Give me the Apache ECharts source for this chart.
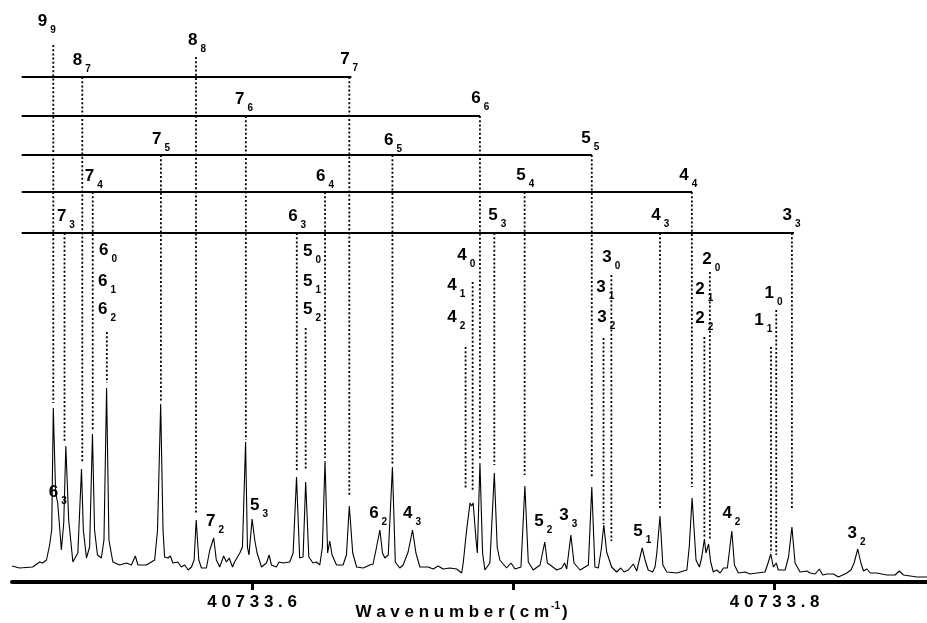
<!DOCTYPE html>
<html>
<head>
<meta charset="utf-8">
<script src="https://cdn.jsdelivr.net/npm/echarts@6/dist/echarts.min.js"></script>
<style>
html,body{margin:0;padding:0;background:#fff;}
#chart{width:927px;height:623px;}
</style>
</head>
<body>
<div id="chart"></div>
<script>
// ---- spectrum (wavenumber in cm-1, intensity in arbitrary units) ----
const wavenumber = [
40733.5081,40733.5110,40733.5160,40733.5187,40733.5198,40733.5213,40733.5225,40733.5233,40733.5239,40733.5248,
40733.5256,40733.5270,40733.5279,40733.5287,40733.5298,40733.5314,40733.5333,40733.5347,40733.5354,40733.5366,
40733.5378,40733.5389,40733.5397,40733.5408,40733.5423,40733.5433,40733.5443,40733.5452,40733.5467,40733.5493,
40733.5519,40733.5538,40733.5553,40733.5563,40733.5595,40733.5627,40733.5638,40733.5650,40733.5659,40733.5665,
40733.5678,40733.5687,40733.5697,40733.5716,40733.5729,40733.5742,40733.5755,40733.5768,40733.5778,40733.5786,
40733.5796,40733.5806,40733.5825,40733.5838,40733.5853,40733.5863,40733.5876,40733.5891,40733.5902,40733.5912,
40733.5925,40733.5933,40733.5953,40733.5963,40733.5975,40733.5982,40733.5988,40733.6000,40733.6010,40733.6019,
40733.6036,40733.6055,40733.6065,40733.6074,40733.6093,40733.6103,40733.6118,40733.6144,40733.6157,40733.6170,
40733.6182,40733.6195,40733.6205,40733.6217,40733.6233,40733.6246,40733.6259,40733.6269,40733.6279,40733.6289,
40733.6297,40733.6306,40733.6323,40733.6348,40733.6361,40733.6372,40733.6385,40733.6400,40733.6425,40733.6450,
40733.6463,40733.6474,40733.6489,40733.6499,40733.6508,40733.6521,40733.6537,40733.6548,40733.6565,40733.6578,
40733.6597,40733.6614,40733.6627,40733.6642,40733.6674,40733.6693,40733.6712,40733.6731,40733.6757,40733.6783,
40733.6802,40733.6808,40733.6821,40733.6834,40733.6840,40733.6846,40733.6857,40733.6862,40733.6872,40733.6882,
40733.6891,40733.6910,40733.6927,40733.6938,40733.6948,40733.6974,40733.6991,40733.7006,40733.7029,40733.7044,
40733.7057,40733.7076,40733.7102,40733.7120,40733.7130,40733.7146,40733.7166,40733.7185,40733.7196,40733.7204,
40733.7220,40733.7232,40733.7255,40733.7287,40733.7300,40733.7312,40733.7325,40733.7336,40733.7346,40733.7357,
40733.7363,40733.7376,40733.7395,40733.7411,40733.7423,40733.7440,40733.7459,40733.7472,40733.7493,40733.7504,
40733.7516,40733.7533,40733.7542,40733.7549,40733.7561,40733.7572,40733.7587,40733.7625,40733.7664,40733.7673,
40733.7684,40733.7699,40733.7712,40733.7721,40733.7731,40733.7737,40733.7747,40733.7755,40733.7765,40733.7778,
40733.7791,40733.7804,40733.7819,40733.7836,40733.7846,40733.7861,40733.7887,40733.7906,40733.7932,40733.7963,
40733.7976,40733.7985,40733.7995,40733.8006,40733.8014,40733.8040,40733.8053,40733.8066,40733.8078,40733.8097,
40733.8123,40733.8136,40733.8155,40733.8171,40733.8184,40733.8200,40733.8225,40733.8244,40733.8276,40733.8292,
40733.8304,40733.8318,40733.8330,40733.8340,40733.8353,40733.8366,40733.8391,40733.8410,40733.8430,40733.8461,
40733.8477,40733.8493,40733.8519,40733.8544,40733.8570,40733.8583
];
const intensity = [
16,14,15,20,19,22,37,52,174,89,
79,32,59,136,62,20,29,113,52,24,
35,148,52,27,24,42,194,42,20,17,
19,17,26,17,17,22,52,178,52,25,
24,26,19,20,15,17,12,15,22,62,
22,14,14,32,44,22,15,26,20,24,
15,20,29,35,140,35,27,63,42,29,
15,19,27,17,15,20,19,20,29,105,
24,25,100,25,19,20,17,35,121,29,
41,27,17,17,27,76,29,15,14,17,
18,32,52,29,24,27,115,20,14,17,
30,52,29,15,15,13,16,13,14,13,
9,19,52,79,76,79,42,29,119,29,
12,19,109,35,22,14,19,13,15,96,
20,12,17,40,19,16,12,14,19,13,
47,19,12,17,95,15,14,32,57,30,
29,15,10,14,10,12,18,11,34,22,
12,10,15,29,66,17,10,9,12,35,
84,22,15,25,43,29,38,20,10,12,
9,14,14,51,17,9,10,8,9,10,
20,28,15,19,12,12,25,55,19,10,
11,9,8,13,7,8,8,5,9,12,
19,33,19,11,13,9,9,8,7,7,
11,7,6,5,5,5
];

// ---- axis ticks ----
const tickValues = [40733.6, 40733.7, 40733.8];
const tickLabels = [40733.6, 40733.8];

// ---- assignment ladder: horizontal levels ----
const ladderLevel = [505, 466, 427, 390, 349];
const ladderStart = [40733.5118, 40733.5118, 40733.5118, 40733.5118, 40733.5118];
const ladderEnd = [40733.6380, 40733.6872, 40733.7300, 40733.7684, 40733.8074];

// ---- dotted assignment lines: position, top, bottom ----
const dropX = [
40733.5239,40733.5350,40733.5785,40733.6372,40733.5976,40733.6872,40733.5651,40733.6537,40733.7300,40733.5390,
40733.6279,40733.7043,40733.7683,40733.5282,40733.6171,40733.6927,40733.7561,40733.8066,40733.5444,40733.6205,
40733.6844,40733.6817,40733.7375,40733.7345,40733.7752,40733.7731,40733.8006,40733.7986
];
const dropTop = [537,505,525,505,466,466,427,427,427,390,390,390,390,349,349,349,349,349,250,254,300,235,307,244,310,245,272,235];
const dropBottom = [179,120,69,85,142,122,180,117,104,152,124,107,95,139,112,117,74,74,199,112,90,94,41,58,42,45,27,29];

// ---- labels (J with K subscript) ----
const labelX = [
40733.5198,40733.5332,40733.5773,40733.6355,40733.5953,40733.6857,40733.5635,40733.6523,40733.7278,40733.5378,
40733.6263,40733.7029,40733.7653,40733.5271,40733.6156,40733.6922,40733.7546,40733.8048,
40733.5432,40733.5428,40733.5428,40733.6213,40733.6213,40733.6213,40733.6803,40733.6765,40733.6765,
40733.7358,40733.7335,40733.7339,40733.7741,40733.7714,40733.7714,40733.7979,40733.7940,
40733.5240,40733.5842,40733.6010,40733.6466,40733.6596,40733.7098,40733.7194,40733.7477,40733.7818,40733.8297
];
const labelY = [
561,522,542,523,483,484,443,442,444,406,
406,407,407,366,366,367,367,367,
332,301,273,331,301,273,327,297,265,
325,295,265,323,293,264,289,262,
90,61,77,69,69,61,67,51,69,49
];
const labelMain = [
'9','8','8','7','7','6','7','6','5','7',
'6','5','4','7','6','5','4','3',
'6','6','6','5','5','5','4','4','4',
'3','3','3','2','2','2','1','1',
'6','7','5','6','4','5','3','5','4','3'
];
const labelSub = [
'9','7','8','7','6','6','5','5','5','4',
'4','4','4','3','3','3','3','3',
'0','1','2','0','1','2','0','1','2',
'0','1','2','0','1','2','0','1',
'3','2','3','2','3','2','3','1','2','2'
];

const FONT = 'Liberation Sans, Arial, sans-serif';
const chart = echarts.init(document.getElementById('chart'), null, {renderer: 'canvas'});

const spectrum = wavenumber.map((w, i) => [w, intensity[i]]);
const ladder = ladderLevel.map((lv, i) => [ladderStart[i], ladderEnd[i], lv]);
const drops = dropX.map((x, i) => [x, dropTop[i], dropBottom[i]]);
const labels = labelX.map((x, i) => [x, labelY[i]]);

chart.setOption({
  animation: false,
  backgroundColor: '#fff',
  grid: {left: 12, right: 0, top: 0, bottom: 41, containLabel: false, outerBoundsMode: 'none'},
  xAxis: {
    type: 'value',
    min: 40733.5081,
    max: 40733.8583,
    axisLine: {show: true, onZero: false, lineStyle: {color: '#000', width: 4}},
    axisTick: {show: true, inside: false, length: 8, customValues: tickValues, lineStyle: {color: '#000', width: 3}},
    axisLabel: {
      show: true, customValues: tickLabels, margin: 12,
      color: '#000', fontSize: 17, fontWeight: 'bold', fontFamily: FONT,
      formatter: v => String(v).split('').join(' ')
    },
    splitLine: {show: false},
    name: '{t|W a v e n u m b e r ( c m}{s|-1}{t|)}',
    nameLocation: 'middle',
    nameGap: 19,
    nameMoveOverlap: false,
    nameTextStyle: {
      padding: [0, 16, 0, 0],
      rich: {
        t: {fontSize: 17, fontWeight: 'bold', fontFamily: FONT, color: '#000', lineHeight: 20, verticalAlign: 'bottom'},
        s: {fontSize: 10, fontWeight: 'bold', fontFamily: FONT, color: '#000', lineHeight: 20, verticalAlign: 'top', padding: [0, 2, 0, 2]}
      }
    }
  },
  yAxis: {type: 'value', min: 0, max: 582, show: false},
  series: [
    {
      type: 'line',
      data: spectrum,
      showSymbol: false,
      symbol: 'none',
      smooth: false,
      lineStyle: {color: '#000', width: 1.1},
      z: 3
    },
    {
      type: 'custom',
      data: ladder,
      clip: false,
      renderItem: (params, api) => {
        const a = api.coord([api.value(0), api.value(2)]);
        const b = api.coord([api.value(1), api.value(2)]);
        return {type: 'line', shape: {x1: a[0], y1: a[1], x2: b[0], y2: b[1]},
          style: {stroke: '#000', lineWidth: 2}};
      },
      z: 2
    },
    {
      type: 'custom',
      data: drops,
      clip: false,
      renderItem: (params, api) => {
        const a = api.coord([api.value(0), api.value(1)]);
        const b = api.coord([api.value(0), api.value(2)]);
        return {type: 'line', shape: {x1: a[0], y1: a[1], x2: b[0], y2: b[1]},
          style: {stroke: '#000', lineWidth: 1.8, lineDash: [2, 2.2]}};
      },
      z: 2
    },
    {
      type: 'custom',
      data: labels,
      clip: false,
      renderItem: (params, api) => {
        const p = api.coord([api.value(0), api.value(1)]);
        const i = params.dataIndex;
        return {
          type: 'group',
          children: [
            {type: 'text', x: p[0], y: p[1], style: {text: labelMain[i], fontSize: 17, fontWeight: 'bold', fontFamily: FONT, fill: '#000', align: 'center', verticalAlign: 'middle'}},
            {type: 'text', x: p[0] + 10.5, y: p[1] + 9, style: {text: labelSub[i], fontSize: 10, fontWeight: 'bold', fontFamily: FONT, fill: '#000', align: 'center', verticalAlign: 'middle'}}
          ]
        };
      },
      z: 4
    }
  ]
});
</script>
</body>
</html>
